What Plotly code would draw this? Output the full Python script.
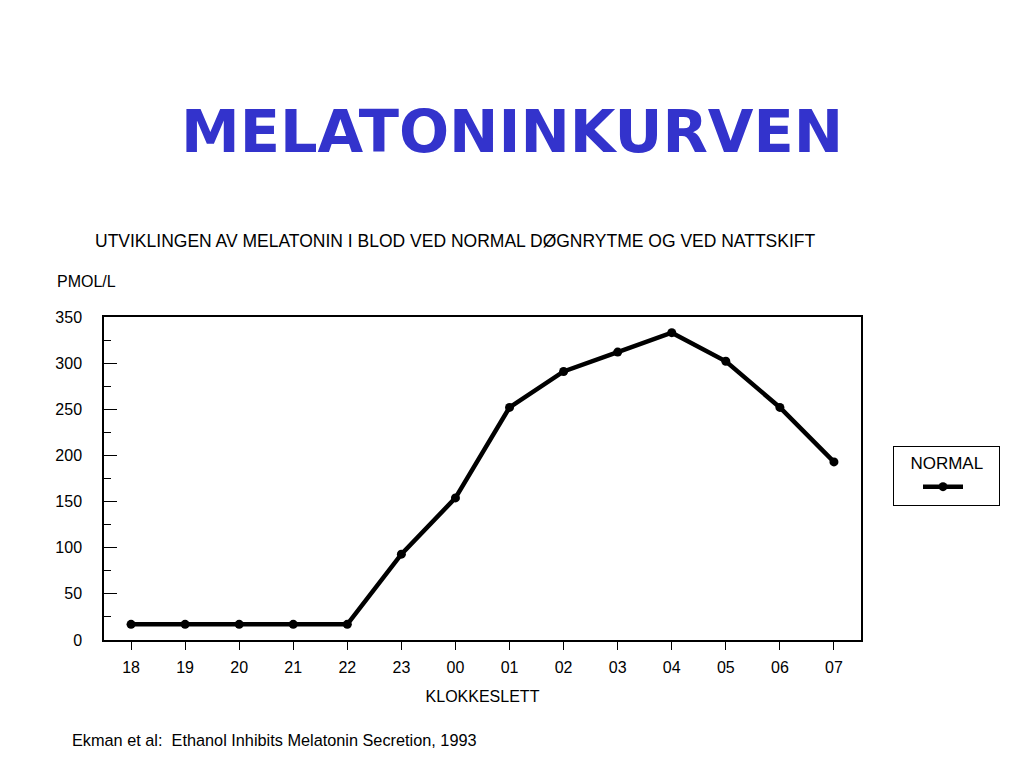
import plotly.graph_objects as go

# clock hours on the x axis
hours = ["18", "19", "20", "21", "22", "23", "00", "01", "02", "03", "04", "05", "06", "07"]
# melatonin in blood, normal day rhythm (pmol/l)
normal = [17, 17, 17, 17, 17, 93, 154, 252, 291, 312, 333, 302, 252, 193]
y_ticks = [0, 50, 100, 150, 200, 250, 300, 350]

FONT = "Liberation Sans, Arial, sans-serif"

# page body adds 8px around the figure, so the figure is 16px smaller
W, H = 1008, 752
L, R, T, B = 96, 155, 309, 120
PW, PH = W - L - R, H - T - B


def px_x(x):
    # screen pixel -> paper coordinate
    return (x - 8 - L) / PW


def px_y(y):
    return (H - B - (y - 8)) / PH


fig = go.Figure()
fig.add_trace(
    go.Scatter(
        x=hours,
        y=normal,
        mode="lines+markers",
        name="",
        line=dict(color="black", width=4.5),
        marker=dict(color="black", size=9),
    )
)

fig.update_layout(
    width=W,
    height=H,
    margin=dict(l=L, r=R, t=T, b=B),
    paper_bgcolor="white",
    plot_bgcolor="white",
    font=dict(family=FONT, size=16, color="black"),
    showlegend=True,
    legend=dict(
        x=px_x(893),
        y=px_y(446),
        xanchor="left",
        yanchor="top",
        bordercolor="black",
        borderwidth=1,
        itemwidth=40,
        indentation=24,
        font=dict(size=17),
        title=dict(text="   NORMAL   ", side="top center", font=dict(size=17)),
    ),
)

fig.update_xaxes(
    type="category",
    range=[-0.5, 13.5],
    showline=True,
    linecolor="black",
    linewidth=1.5,
    mirror=True,
    ticks="outside",
    ticklen=8,
    tickcolor="black",
    showgrid=False,
    tickfont=dict(size=16),
    ticklabelstandoff=4,
    title=dict(text="KLOKKESLETT", font=dict(size=16), standoff=16),
)
fig.update_yaxes(
    range=[0, 350],
    tickvals=y_ticks,
    showline=True,
    linecolor="black",
    linewidth=1.5,
    mirror=True,
    ticks="inside",
    ticklen=13,
    tickcolor="black",
    showgrid=False,
    zeroline=False,
    tickfont=dict(size=16),
    ticklabelstandoff=17,
    minor=dict(dtick=25, ticks="inside", ticklen=7, tickcolor="black", showgrid=False),
)

fig.add_annotation(
    text="<b>MELATONINKURVEN</b>", x=px_x(512), y=px_y(131),
    xanchor="center", yanchor="middle",
    font=dict(family="DejaVu Sans, sans-serif", size=59, color="#3333CC"),
)
fig.add_annotation(
    text="UTVIKLINGEN AV MELATONIN I BLOD VED NORMAL DØGNRYTME OG VED NATTSKIFT",
    x=px_x(93), y=px_y(241), xanchor="left", yanchor="middle", font=dict(size=17.5),
)
fig.add_annotation(
    text="PMOL/L", x=px_x(55), y=px_y(281), xanchor="left", yanchor="middle", font=dict(size=16),
)
fig.add_annotation(
    text="Ekman et al:  Ethanol Inhibits Melatonin Secretion, 1993",
    x=px_x(70), y=px_y(740), xanchor="left", yanchor="middle", font=dict(size=16.3),
)
fig.update_annotations(xref="paper", yref="paper", showarrow=False)

fig.write_html("out.html")
